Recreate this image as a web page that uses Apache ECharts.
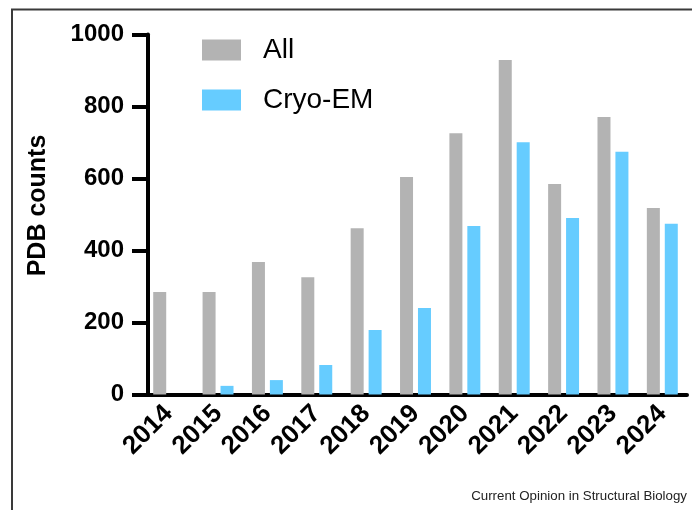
<!DOCTYPE html>
<html>
<head>
<meta charset="utf-8">
<script src="https://cdn.jsdelivr.net/npm/echarts@6/dist/echarts.min.js"></script>
<style>
html,body{margin:0;padding:0;background:#fff;}
#c{width:692px;height:510px;}
</style>
</head>
<body>
<div id="c"></div>
<script>
const years = ['2014','2015','2016','2017','2018','2019','2020','2021','2022','2023','2024'];
const allCounts = [285, 285, 368, 326, 462, 604, 726, 929, 585, 771, 518];
const cryoCounts = [0, 24, 40, 82, 179, 240, 468, 701, 490, 674, 474];
const yTicks = [0, 200, 400, 600, 800, 1000];

const FONT = "'Liberation Sans', Arial, Helvetica, sans-serif";
const chart = echarts.init(document.getElementById('c'), null, {renderer: 'canvas'});
chart.setOption({
  animation: false,
  backgroundColor: '#fff',
  textStyle: {fontFamily: FONT},
  title: {
    text: 'Current Opinion in Structural Biology',
    right: 5, top: 490, padding: 0,
    textStyle: {fontFamily: FONT, fontSize: 13.3, fontWeight: 'normal', color: '#222'}
  },
  graphic: [{
    type: 'polyline',
    shape: {points: [[12, 510], [12, 9.5], [692, 9.5]]},
    style: {stroke: '#3a3a3a', lineWidth: 2, fill: null},
    silent: true
  }],
  legend: {
    orient: 'vertical',
    left: 202, top: 36, padding: 0,
    itemWidth: 39, itemHeight: 21,
    itemGap: 22,
    icon: 'rect',
    textStyle: {fontFamily: FONT, fontSize: 28, color: '#000', lineHeight: 28, padding: [0, 0, 0, 17]},
    data: ['All', 'Cryo-EM']
  },
  grid: {left: 144, right: 5, top: 34.5, height: 360, containLabel: false},
  xAxis: {
    type: 'category',
    data: years,
    axisLine: {lineStyle: {color: '#000', width: 4}},
    axisTick: {alignWithLabel: true, length: 14, lineStyle: {color: '#000', width: 4}},
    axisLabel: {rotate: 45, margin: 15, color: '#000', fontFamily: FONT, fontWeight: 'bold', fontSize: 26, interval: 0}
  },
  yAxis: {
    type: 'value',
    min: 0, max: 1000, interval: 200,
    offset: -4,
    name: 'PDB counts',
    nameLocation: 'middle',
    nameGap: 97,
    nameTextStyle: {fontFamily: FONT, fontWeight: 'bold', fontSize: 25, color: '#000', padding: [0, 0, 0, 18]},
    splitLine: {show: false},
    axisLine: {show: true, lineStyle: {color: '#000', width: 4}},
    axisTick: {show: true, length: 16, lineStyle: {color: '#000', width: 4}},
    axisLabel: {
      margin: 24, color: '#000', fontFamily: FONT, fontWeight: 'bold', fontSize: 24,
      formatter: v => yTicks.includes(v) ? String(v) : ''
    }
  },
  series: [
    {name: 'All', type: 'bar', data: allCounts, barWidth: 13, barGap: '38%',
     itemStyle: {color: '#b3b3b3'}},
    {name: 'Cryo-EM', type: 'bar', data: cryoCounts, barWidth: 13, barGap: '38%',
     itemStyle: {color: '#66ccff'}}
  ]
});
</script>
</body>
</html>
